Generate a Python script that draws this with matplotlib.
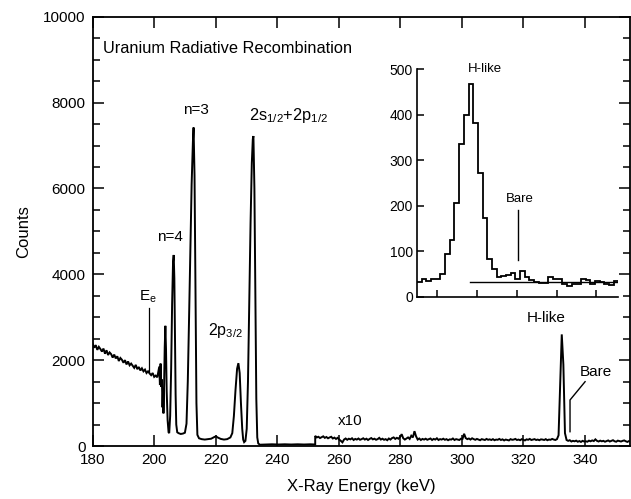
import numpy as np
import matplotlib
matplotlib.use("Agg")
import matplotlib.pyplot as plt

plt.rcParams['font.family'] = ['Liberation Sans', 'DejaVu Sans']
plt.rcParams['mathtext.fontset'] = 'custom'
plt.rcParams['mathtext.rm'] = 'Liberation Sans'
plt.rcParams['mathtext.it'] = 'Liberation Sans:italic'

# ---- main spectrum, 180 - 252 keV (counts) ----
energy_low = [
    180.0, 180.5, 181.0, 181.5, 182.0, 182.5, 183.0, 183.5, 184.0, 184.5,
    185.0, 185.5, 186.0, 186.5, 187.0, 187.5, 188.0, 188.5, 189.0, 189.5,
    190.0, 190.5, 191.0, 191.5, 192.0, 192.5, 193.0, 193.5, 194.0, 194.5,
    195.0, 195.5, 196.0, 196.5, 197.0, 197.5, 198.0, 198.5, 199.0, 199.5,
    200.0, 200.5, 201.0,
    201.65, 201.86, 202.07, 202.28, 202.49, 202.70, 202.90, 203.01,
    203.22, 203.42, 203.63, 203.84, 204.05, 204.36, 204.67, 204.88, 205.19, 205.51,
    205.82, 206.13, 206.34, 206.55, 206.76, 206.96, 207.17, 207.49, 207.90, 208.63,
    209.36, 209.98, 210.50, 210.92, 211.34, 211.75, 212.17, 212.59, 212.80, 213.11,
    213.42, 213.73, 214.04, 214.57, 215.40, 216.44, 217.48, 218.52, 219.56, 220.08,
    220.60, 221.64, 222.69, 223.73, 224.77, 225.39, 225.91, 226.43, 226.95, 227.37,
    227.79, 228.20, 228.62, 228.93, 229.24, 229.66, 230.08, 230.49, 230.91, 231.33,
    231.74, 232.06, 232.26, 232.58, 232.89, 233.20, 233.51, 233.83, 234.35, 236.22,
    238.3, 240.38, 242.47, 244.55, 246.63, 248.71, 250.79, 252.35]
counts_low = [
    2380, 2290, 2350, 2240, 2310, 2260, 2200, 2270, 2150, 2230,
    2120, 2180, 2140, 2060, 2130, 2040, 2090, 1980, 2050, 2010,
    1940, 2000, 1900, 1970, 1880, 1920, 1870, 1820, 1890, 1790,
    1840, 1760, 1810, 1740, 1780, 1700, 1740, 1690, 1650, 1700,
    1610, 1640, 1600,
    1850, 1420, 1920, 1380, 1550, 900, 1350, 760,
    1450, 2300, 2800, 2250, 1300, 600, 320, 300, 700, 1800,
    3300, 4300, 4450, 3900, 2500, 1200, 500, 320, 300, 280,
    290, 310, 520, 1500, 3000, 4600, 6100, 7100, 7420, 6300,
    3500, 1000, 260, 180, 160, 150, 160, 170, 210, 225,
    200, 165, 150, 160, 200, 300, 700, 1300, 1800, 1930,
    1700, 1000, 400, 150, 90, 120, 400, 1500, 3300, 5200,
    6600, 7150, 7220, 6000, 3500, 1100, 200, 60, 30, 35,
    40, 35, 40, 35, 40, 35, 40, 35]

# ---- 252.35 - 354.9 keV, displayed multiplied by 10 ----
energy_high = np.linspace(252.35, 354.9, 198)
counts_high_x10 = [
    235, 200, 215, 185, 205, 225, 190, 210, 180, 200,
    215, 175, 195, 165, 190, 150, 120, 85, 150, 175,
    145, 170, 155, 180, 140, 165, 150, 175, 145, 160,
    180, 150, 170, 140, 165, 185, 155, 170, 145, 160,
    190, 150, 170, 145, 160, 135, 175, 150, 185, 200,
    165, 190, 170, 210, 275, 180, 150, 175, 200, 165,
    240, 200, 345, 225, 150, 175, 140, 165, 150, 170,
    145, 160, 175, 140, 165, 150, 180, 140, 160, 150,
    170, 145, 160, 135, 155, 150, 175, 140, 160, 150,
    140, 170, 165, 285, 185, 160, 175, 150, 180, 160,
    145, 165, 150, 135, 160, 150, 140, 165, 145, 155,
    140, 160, 135, 150, 145, 165, 140, 155, 130, 150,
    140, 130, 160, 145, 150, 165, 140, 150, 135, 160,
    145, 130, 155, 145, 165, 140, 150, 160, 140, 150,
    135, 155, 150, 140, 160, 135, 150, 145, 165, 150,
    140, 160, 250, 1400, 2600, 1900, 300, 140, 120, 135,
    105, 120, 110, 125, 100, 115, 95, 120, 105, 110,
    100, 125, 110, 130, 115, 155, 120, 105, 125, 110,
    120, 100, 115, 130, 105, 120, 135, 110, 100, 125,
    115, 105, 120, 130, 110, 95, 115, 110]

# ---- inset histogram (H-like / Bare region) ----
inset_counts = [
    33, 38, 35, 40, 39, 51, 95, 125, 207, 335,
    400, 467, 381, 271, 172, 82, 62, 43, 45, 48,
    53, 40, 56, 43, 37, 33, 31, 31, 43, 40,
    38, 29, 24, 29, 28, 38, 37, 29, 35, 33,
    29, 26, 35]
inset_background = 33

x_ticks = [180, 200, 220, 240, 260, 280, 300, 320, 340]
y_ticks = [0, 2000, 4000, 6000, 8000, 10000]
inset_y_ticks = [0, 100, 200, 300, 400, 500]

fig = plt.figure(figsize=(6.31, 4.99), dpi=100)
ax = fig.add_axes([0.1469, 0.1062, 0.8515, 0.8603])

E = np.concatenate([energy_low, energy_high])
C = np.concatenate([counts_low, counts_high_x10])
ax.plot(E, C, color='black', lw=1.4, solid_joinstyle='miter')

ax.set_xlim(180, 354.7)
ax.set_ylim(0, 10000)
ax.set_xticks(x_ticks)
ax.set_yticks(y_ticks)
ax.set_yticks(np.arange(0, 10001, 500), minor=True)
ax.tick_params(which='both', direction='in', top=True, right=True,
               labelsize=11, width=1.1, pad=5)
ax.tick_params(which='major', length=8)
ax.tick_params(which='minor', length=5)
ax.tick_params(axis='x', which='minor', top=False, bottom=False)
for s in ax.spines.values():
    s.set_linewidth(1.3)

ax.set_xlabel('X-Ray Energy (keV)', fontsize=12, labelpad=9)
ax.set_ylabel('Counts', fontsize=12, labelpad=9)

tk = dict(color='black', fontsize=11)
ax.text(183.4, 9264, 'Uranium Radiative Recombination', ha='left', va='center',
        fontsize=11.8)
ax.text(213.6, 7827, 'n=3', ha='center', va='center', **tk)
ax.text(230.8, 7710, r'$\mathregular{2s_{1/2}{+}2p_{1/2}}$', ha='left',
        va='center', color='black', fontsize=11.8)
ax.text(205.2, 4868, 'n=4', ha='center', va='center', **tk)
ax.text(198.1, 3471, r'$\mathregular{E_e}$', ha='center', va='center', **tk)
ax.plot([198.4, 198.4], [1730, 3215], color='black', lw=0.9)
ax.text(223.2, 2679, r'$\mathregular{2p_{3/2}}$', ha='center', va='center',
        color='black', fontsize=11.5)
ax.text(263.6, 582, 'x10', ha='center', va='center', **tk)
ax.text(327.6, 2982, 'H-like', ha='center', va='center', **tk)
ax.text(343.7, 1724, 'Bare', ha='center', va='center', **tk)
ax.plot([340.1, 335.2, 335.2], [1498, 1072, 333], color='black', lw=1.0)

# ---- inset ----
axi = fig.add_axes([0.6609, 0.4054, 0.319, 0.4557])
axi.patch.set_alpha(0)
axi.stairs(inset_counts, np.arange(len(inset_counts) + 1), color='black',
           lw=1.3, baseline=None)
axi.plot([11.4, 43], [inset_background, inset_background], color='black', lw=1.0)
axi.plot([21.5, 21.5], [80, 190], color='black', lw=1.0)
axi.text(14.6, 500, 'H-like', ha='center', va='center', fontsize=9.5)
axi.text(22.0, 214, 'Bare', ha='center', va='center', fontsize=9.5)
axi.set_xlim(0, 43)
axi.set_ylim(0, 500)
axi.set_yticks(inset_y_ticks)
axi.set_xticks([4.3, 12.8, 21.3, 29.8, 38.3])
axi.set_xticklabels([])
axi.spines['top'].set_visible(False)
axi.spines['right'].set_visible(False)
for s in ['left', 'bottom']:
    axi.spines[s].set_linewidth(1.2)
axi.tick_params(direction='in', length=5, width=1.1, labelsize=10, pad=3)

fig.savefig('out.png', dpi=100)
